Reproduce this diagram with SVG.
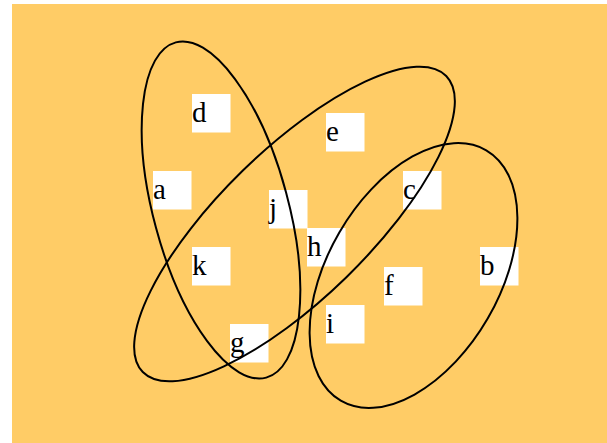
<svg xmlns="http://www.w3.org/2000/svg" width="607" height="443" viewBox="0 0 607 443">
<style>
.box{fill:#ffffff}
.lbl{font-family:"Liberation Serif","Times New Roman",serif;font-size:29px;fill:#000000}
.edge{fill:none;stroke:#000000;stroke-width:2}
</style>
<rect x="0" y="0" width="607" height="443" fill="#ffffff"/>
<rect x="12" y="4" width="595" height="439" fill="#FFCC66"/>
<g id="node-d"><rect class="box" x="192" y="94" width="38.5" height="38.5"/><text class="lbl" x="192" y="122">d</text></g>
<g id="node-a"><rect class="box" x="153" y="171" width="38.5" height="38.5"/><text class="lbl" x="153" y="199">a</text></g>
<g id="node-j"><rect class="box" x="269" y="190" width="38.5" height="38.5"/><text class="lbl" x="269" y="218">j</text></g>
<g id="node-e"><rect class="box" x="326" y="113" width="38.5" height="38.5"/><text class="lbl" x="326" y="141">e</text></g>
<g id="node-c"><rect class="box" x="403" y="171" width="38.5" height="38.5"/><text class="lbl" x="403" y="199">c</text></g>
<g id="node-h"><rect class="box" x="307" y="228" width="38.5" height="38.5"/><text class="lbl" x="307" y="256">h</text></g>
<g id="node-b"><rect class="box" x="480" y="247" width="38.5" height="38.5"/><text class="lbl" x="480" y="275">b</text></g>
<g id="node-f"><rect class="box" x="384" y="267" width="38.5" height="38.5"/><text class="lbl" x="384" y="295">f</text></g>
<g id="node-k"><rect class="box" x="192" y="247" width="38.5" height="38.5"/><text class="lbl" x="192" y="275">k</text></g>
<g id="node-g"><rect class="box" x="230" y="324" width="38.5" height="38.5"/><text class="lbl" x="230" y="352">g</text></g>
<g id="node-i"><rect class="box" x="326" y="305" width="38.5" height="38.5"/><text class="lbl" x="326" y="333">i</text></g>
<g id="connectors">
<ellipse class="edge" cx="221" cy="210" rx="173.6" ry="67.4" transform="rotate(74.9 221 210)"/>
<ellipse class="edge" cx="294.5" cy="224" rx="212" ry="74.3" transform="rotate(-44.3 294.5 224)"/>
<ellipse class="edge" cx="413.5" cy="275.5" rx="144.8" ry="85.8" transform="rotate(-59.85 413.5 275.5)"/>
</g>
</svg>
